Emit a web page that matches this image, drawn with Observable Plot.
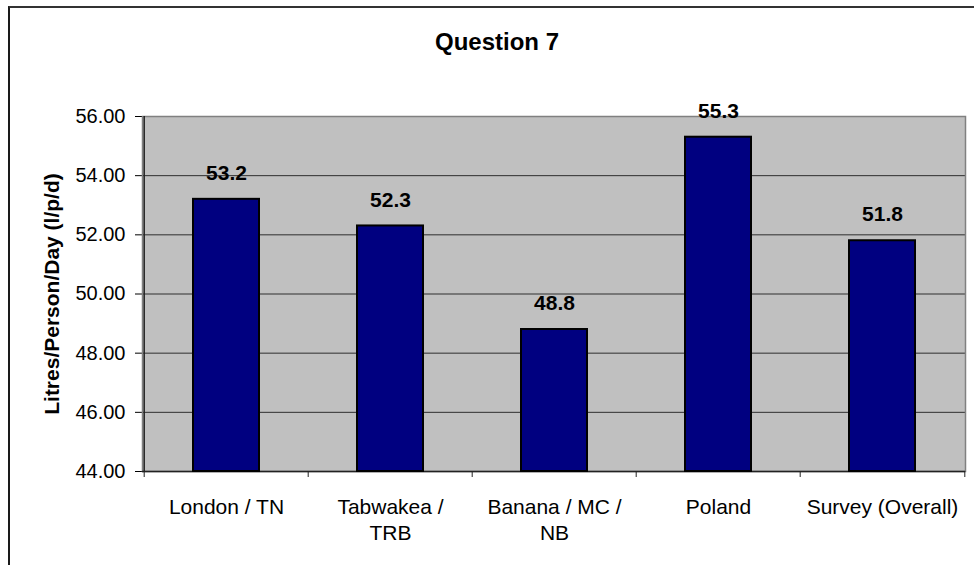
<!DOCTYPE html>
<html>
<head>
<meta charset="utf-8">
<script src="https://cdn.jsdelivr.net/npm/d3@7"></script>
<script src="https://cdn.jsdelivr.net/npm/@observablehq/plot@0.6"></script>
<style>
  html, body { margin: 0; padding: 0; background: #fff; }
  #chart { position: relative; width: 974px; height: 565px; overflow: hidden; }
  #chart .border {
    position: absolute; left: 8px; top: 6px; width: 1000px; height: 600px;
    border-left: 2px solid #1a1a1a; border-top: 2px solid #333;
    pointer-events: none;
  }
  #chart svg { display: block; }
</style>
</head>
<body>
<div id="chart"><div class="border"></div></div>
<script>
// Litres per person per day, by survey group
const categories = ["London / TN", "Tabwakea /\nTRB", "Banana / MC /\nNB", "Poland", "Survey (Overall)"];
const values = [53.2, 52.3, 48.8, 55.3, 51.8];
const yTicks = [44, 46, 48, 50, 52, 54, 56];
const gridValues = [46, 48, 50, 52, 54];

const data = categories.map((c, i) => ({category: c, value: values[i]}));

const width = 974, height = 565;
const marginLeft = 142, marginRight = 9, marginTop = 116, marginBottom = 94;
const step = (width - marginLeft - marginRight) / categories.length;
const font = "'Liberation Sans', Arial, Helvetica, sans-serif";

const plot = Plot.plot({
  width, height, marginLeft, marginRight, marginTop, marginBottom,
  style: {fontFamily: font, fontSize: "20px", background: "transparent", color: "#000", overflow: "visible"},
  x: {domain: categories, paddingInner: 0.6, paddingOuter: 0.3, axis: null},
  y: {
    domain: [44, 56], ticks: yTicks, tickFormat: d3.format(".2f"),
    tickSize: 7, tickPadding: 10, label: null
  },
  marks: [
    // plot area
    Plot.frame({fill: "#c0c0c0", stroke: null}),
    Plot.ruleY(gridValues, {stroke: "#2e2e2e", strokeWidth: 1}),
    Plot.frame({stroke: "#808080", strokeWidth: 1.5}),
    // value axis line and category axis line
    Plot.ruleX([categories[0]], {dx: -step / 2, stroke: "#222", strokeWidth: 1.5}),
    Plot.ruleY([44], {stroke: "#222", strokeWidth: 1.5}),
    // category boundary ticks
    Plot.ruleX(categories, {dx: -step / 2, y1: 44, y2: 44, insetBottom: -6, stroke: "#222"}),
    Plot.ruleX([categories[categories.length - 1]], {dx: step / 2, y1: 44, y2: 44, insetBottom: -6, stroke: "#222"}),
    // bars
    Plot.barY(data, {x: "category", y1: 44, y2: "value", fill: "#000080", stroke: "#000", strokeWidth: 2}),
    // value labels
    Plot.text(data, {
      x: "category", y: "value", text: d => d.value.toFixed(1),
      dy: -26, fontWeight: "bold", fontSize: 21, fill: "#000"
    }),
    // category labels
    Plot.text(data, {
      x: "category", y: 44, text: "category",
      lineAnchor: "top", dy: 23.5, lineHeight: 1.24, fontSize: 21, fill: "#000"
    }),
    // value axis title
    Plot.text(["Litres/Person/Day (l/p/d)"], {
      frameAnchor: "left", textAnchor: "middle", rotate: -90, dx: -90,
      fontWeight: "bold", fontSize: 21, fill: "#000"
    }),
    // chart title
    Plot.text(["Question 7"], {
      frameAnchor: "top", lineAnchor: "bottom", dx: -57, dy: -67,
      fontWeight: "bold", fontSize: 24, fill: "#000"
    })
  ]
});

document.getElementById("chart").prepend(plot);
</script>
</body>
</html>
